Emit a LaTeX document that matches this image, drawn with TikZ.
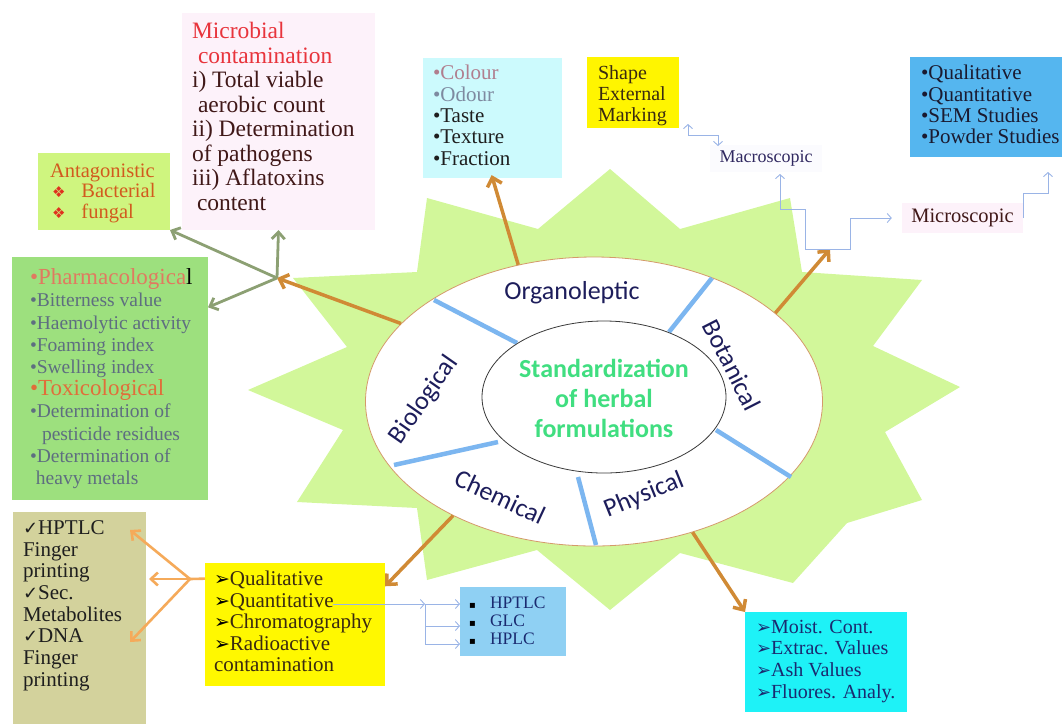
\documentclass[tikz,border=0pt]{standalone}
\usepackage{fontspec}
\setmainfont{Liberation Serif}
\newfontfamily\calib{Carlito}
\newfontfamily\symf{DejaVu Sans}
\usetikzlibrary{arrows.meta,shapes.geometric,calc}
\definecolor{starfill}{HTML}{D2F79A}
\definecolor{ellline}{HTML}{D49A6A}
\definecolor{innerline}{HTML}{3A3A3A}
\definecolor{sepblue}{HTML}{7CB6F0}
\definecolor{labnavy}{HTML}{1D1D5B}
\definecolor{titlegreen}{HTML}{40DE80}
\definecolor{orng}{HTML}{D08A35}
\definecolor{garr}{HTML}{8CA073}
\definecolor{lorng}{HTML}{F5AA5A}
\definecolor{bline}{HTML}{9AB4E6}
\definecolor{microfill}{HTML}{FDF2FA}
\definecolor{microred}{HTML}{E8343C}
\definecolor{microtxt}{HTML}{401818}
\definecolor{antagfill}{HTML}{CFF57F}
\definecolor{antagtxt}{HTML}{D25A1E}
\definecolor{antagred}{HTML}{E0301E}
\definecolor{pharmafill}{HTML}{9DE07E}
\definecolor{pharmatxt}{HTML}{5E6E80}
\definecolor{phead}{HTML}{E07A60}
\definecolor{toxc}{HTML}{E06E3A}
\definecolor{organofill}{HTML}{CCFAFD}
\definecolor{colourc}{HTML}{B07E8E}
\definecolor{odourc}{HTML}{7E8AA0}
\definecolor{darktxt}{HTML}{1E1E1E}
\definecolor{shapefill}{HTML}{FFF500}
\definecolor{browntxt}{HTML}{3A2A10}
\definecolor{trfill}{HTML}{55B6EF}
\definecolor{trtxt}{HTML}{1A1A30}
\definecolor{macrofill}{HTML}{FBFBFE}
\definecolor{macrotxt}{HTML}{302860}
\definecolor{olivefill}{HTML}{D3D29C}
\definecolor{chemfill}{HTML}{FFF800}
\definecolor{hpfill}{HTML}{8FD0F3}
\definecolor{navytxt}{HTML}{1A2A70}
\definecolor{physfill}{HTML}{1EF2F7}
\newcommand{\mybx}[5]{\parbox[t][#2][t]{#1}{\vspace*{#3}\raggedright\leftskip=#4\relax #5\par}}
\newcommand{\chk}{{\symf\fontsize{18}{18}\selectfont ✓}}
\newcommand{\arrb}{{\color{black}\symf\fontsize{19}{19}\selectfont ➢}}
\newcommand{\arrc}{{\symf\fontsize{18}{18}\selectfont ➢}}
\newcommand{\dmd}{{\color{antagred}\symf\fontsize{15}{15}\selectfont ❖}}
\begin{document}
\begin{tikzpicture}[x=1pt,y=-1pt,
  tb/.style={anchor=north west, inner sep=0pt, outer sep=0pt},
  lab/.style={text=labnavy, font=\calib\fontsize{26}{28}\selectfont, inner sep=0pt},
  sepline/.style={draw=sepblue, line width=4.5pt},
  oarrow/.style={draw=orng, line width=3.5pt, -{Straight Barb[length=8pt,width=15pt]}},
  garrow/.style={draw=garr, line width=2.8pt, -{Straight Barb[length=7pt,width=13pt]}},
  loarrow/.style={draw=lorng, line width=2.6pt, -{Straight Barb[length=7pt,width=13pt]}},
  loline/.style={draw=lorng, line width=2.6pt},
  bconn/.style={draw=bline, line width=0.9pt},
  bb/.tip={Straight Barb[length=4pt,width=9pt]}
]
\useasboundingbox (0,0) rectangle (1062,724);
% star
\fill[starfill] (610,169) -- (680,229) -- (790,198) -- (802,272) -- (922,280) -- (873,346) -- (960,387) -- (885,432) -- (922,500) -- (847,523) -- (793,583) -- (680,553) -- (610,610) -- (537,550) -- (427,580) -- (417,508) -- (297,502) -- (343,430) -- (248,390) -- (347,347) -- (293,278) -- (417,272) -- (427,198) -- (538,229) -- cycle;
% ellipses
\node[ellipse, draw=ellline, line width=0.8pt, fill=white, minimum width=457pt, minimum height=289pt, inner sep=0pt] (outer) at (594,401.5) {};
\draw[sepline] (434,300) -- (517,343);
\draw[sepline] (712,278) -- (669,332);
\draw[sepline] (716,430) -- (791,477);
\draw[sepline] (578,477) -- (596,545);
\draw[sepline] (394,465) -- (498,442);
\node[ellipse, draw=innerline, line width=0.8pt, fill=white, minimum width=244pt, minimum height=152pt, inner sep=0pt] (inner) at (604,397) {};
\node[text=titlegreen, font=\calib\bfseries\fontsize{26}{30}\selectfont, align=center, inner sep=0pt] (title) at (604,398) {Standardization\\of herbal\\formulations};
\node[lab] (orgl) at (572,293) {Organoleptic};
\node[lab, rotate=-63] (botl) at (732,365) {Botanical};
\node[lab, rotate=55] (biol) at (424,400) {Biological};
\node[lab, rotate=-25] (cheml) at (500,497) {Chemical};
\node[lab, rotate=22] (physl) at (644,495) {Physical};
% boxes
\node[tb, fill=microfill] (microb) at (182,13) {\mybx{193pt}{217pt}{9.5pt}{10pt}{\fontsize{23.5}{24.5}\selectfont\color{microtxt}{\color{microred}Microbial\\\hspace*{6pt}contamination}\\i) Total viable\\\hspace*{6pt}aerobic count\\ii) Determination\\of pathogens\\iii) Aflatoxins\\\hspace*{5pt}content}};
\node[tb, fill=antagfill] (antag) at (38,153) {\mybx{132pt}{77pt}{10.6pt}{12pt}{\fontsize{20.5}{20.5}\selectfont\color{antagtxt}Antagonistic\\\hspace*{2pt}\dmd\hspace*{16pt}Bacterial\\\hspace*{2pt}\dmd\hspace*{16pt}fungal}};
\node[tb, fill=pharmafill] (pharma) at (12,257) {\mybx{196pt}{243pt}{11.7pt}{18pt}{\fontsize{19.5}{22.2}\selectfont\color{pharmatxt}{\fontsize{23}{22.2}\selectfont\color{phead}•Pharmacologica\color{black}l}\\•Bitterness value\\•Haemolytic activity\\•Foaming index\\•Swelling index\\{\fontsize{23}{22.2}\selectfont\color{toxc}•Toxicological}\\•Determination of\\\hspace*{12pt}pesticide residues\\•Determination of\\\hspace*{6pt}heavy metals}};
\node[tb, fill=organofill] (organo) at (423,58) {\mybx{139pt}{120pt}{7.4pt}{10pt}{\fontsize{21}{21.3}\selectfont\color{darktxt}{\color{colourc}•Colour}\\{\color{odourc}•Odour}\\•Taste\\•Texture\\•Fraction}};
\node[tb, fill=shapefill] (shape) at (587,57) {\mybx{92pt}{71pt}{8.8pt}{11pt}{\fontsize{20}{21}\selectfont\color{browntxt}Shape\\External\\Marking}};
\node[tb, fill=trfill] (trblue) at (910,57) {\mybx{152pt}{100pt}{8.4pt}{11pt}{\fontsize{21}{21.3}\selectfont\color{trtxt}•Qualitative\\•Quantitative\\•SEM Studies\\•Powder Studies}};
\node[fill=macrofill, minimum width=112pt, minimum height=27pt, inner sep=0pt, text=macrotxt, font=\fontsize{18}{18}\selectfont] (macro) at (766,158.5) {Macroscopic};
\node[fill=microfill, minimum width=121pt, minimum height=30pt, inner sep=0pt, text=microtxt, font=\fontsize{20.5}{20.5}\selectfont] (micros) at (962.5,218) {Microscopic};
\node[tb, fill=olivefill] (olive) at (13,512) {\mybx{133pt}{212pt}{8.4pt}{10pt}{\fontsize{21}{21.7}\selectfont\color{darktxt}\chk HPTLC\\Finger\\printing\\\chk Sec.\\Metabolites\\\chk DNA\\Finger\\printing}};
\node[tb, fill=chemfill] (chem) at (205,563) {\mybx{180pt}{123pt}{8.4pt}{9pt}{\fontsize{21}{21.5}\selectfont\color{browntxt}\arrb Qualitative\\\arrb Quantitative\\\arrb Chromatography\\\arrb Radioactive\\contamination}};
\node[tb, fill=hpfill] (hptlc) at (460,587) {\mybx{106pt}{69pt}{9.7pt}{9pt}{\fontsize{17.5}{18}\selectfont\color{navytxt}\makebox[21pt][l]{\color{black}\symf\fontsize{10}{10}\selectfont ▪}HPTLC\\\makebox[21pt][l]{\color{black}\symf\fontsize{10}{10}\selectfont ▪}GLC\\\makebox[21pt][l]{\color{black}\symf\fontsize{10}{10}\selectfont ▪}HPLC}};
\node[tb, fill=physfill] (phys) at (745,612) {\mybx{162pt}{100pt}{7.8pt}{11pt}{\fontsize{20}{21.7}\selectfont\color{navytxt}\arrc Moist. Cont.\\\arrc Extrac. Values\\\arrc Ash Values\\\arrc Fluores. Analy.}};
% coordinates
\coordinate (fan1) at (277,278);
\coordinate (fan2) at (190,579);
\coordinate (o1) at (130,530);
\coordinate (o2) at (149,579);
\coordinate (o3) at (130,642);
\coordinate (bot1) at (830,249);
\coordinate (a1) at (688,124);
\coordinate (a2) at (718,146);
\coordinate (b0) at (780,174);
\coordinate (c1) at (1048,172);
\coordinate (q0) at (333,604);
\coordinate (q1) at (425,604);
% orange arrows
\draw[oarrow, shorten >=-3pt] (outer.119.1) -- (organo.south);
\draw[oarrow] (outer.158.6) -- (fan1);
\draw[oarrow] (outer.26.3) -- (bot1);
\draw[oarrow] (outer.219.6) -- (chem.23.7);
\draw[oarrow] (outer.307.2) -- (phys.north west);
% gray arrows
\draw[garrow] (fan1) -- (antag.south east);
\draw[garrow] (fan1) -- (microb.south);
\draw[garrow] (fan1) -- (pharma.36.9);
% light orange arrows
\draw[loline] (chem.153.2) -- (fan2);
\draw[loarrow] (fan2) -- (o1);
\draw[loarrow] (fan2) -- (o2);
\draw[loarrow] (fan2) -- (o3);
% blue connectors
\draw[bconn, bb-bb] (a1) -- ++(0,11) -| (a2);
\draw[bconn, bb-bb] (b0) -- ++(0,35) -- ++(25,0) -- ++(0,40) -- ++(45,0) |- ([xshift=-10pt]micros.west);
\draw[bconn, -bb] (micros.east) -- ++(0,-25) -| (c1);
\draw[bconn, -bb] (q0) -- (q1);
\draw[bconn, -bb] (q1) -- (hptlc.west |- q1);
\draw[bconn, -bb] (q1) |- ([yshift=-4.5pt]hptlc.west);
\draw[bconn, -bb] (q1) |- ([yshift=-22.5pt]hptlc.west);
\end{tikzpicture}
\end{document}
